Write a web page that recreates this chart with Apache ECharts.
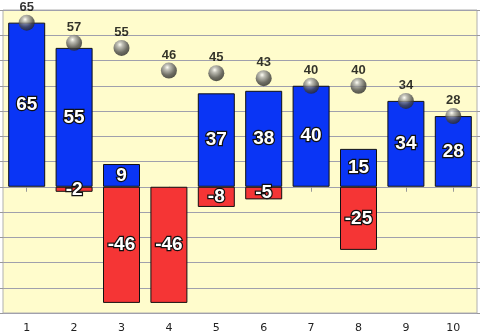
<!DOCTYPE html>
<html>
<head>
<meta charset="utf-8">
<script src="https://cdn.jsdelivr.net/npm/echarts@6/dist/echarts.min.js"></script>
<style>html,body{margin:0;padding:0;background:#fff}#c{width:480px;height:335px}</style>
</head>
<body>
<div id="c"></div>
<script>
var categories = ['1','2','3','4','5','6','7','8','9','10'];
var positiveValues = [65, 55, 9, '-', 37, 38, 40, 15, 34, 28];
var negativeValues = ['-', -2, -46, -46, -8, -5, '-', -25, '-', '-'];
var totalValues = [65, 57, 55, 46, 45, 43, 40, 40, 34, 28];

var chart = echarts.init(document.getElementById('c'), null, {renderer: 'canvas'});
var barLabel = {
  show: true, position: 'inside', color: '#fff', fontWeight: 'bold', fontSize: 19,
  fontFamily: "'Liberation Sans', Arial, sans-serif",
  textBorderColor: '#111', textBorderWidth: 2.5
};
chart.setOption({
  animation: false,
  backgroundColor: '#ffffff',
  grid: {left: 3, right: 3, top: 10, bottom: 22, show: true, backgroundColor: '#fffccc', borderColor: '#b0b0b0', borderWidth: 1},
  xAxis: {
    type: 'category', data: categories,
    axisLine: {show: false},
    axisTick: {show: true, alignWithLabel: true, length: 5, lineStyle: {color: '#999'}},
    axisLabel: {color: '#222', fontSize: 11, fontFamily: 'DejaVu Sans', margin: 10}
  },
  yAxis: [{
    type: 'value', min: -50, max: 70, interval: 10,
    axisLabel: {show: false}, axisLine: {show: false},
    axisTick: {show: true, length: 3, lineStyle: {color: '#999'}},
    splitLine: {show: true, lineStyle: {color: '#a0a0ac', width: 1}}
  }, {
    type: 'value', min: -50, max: 70, interval: 10, position: 'right',
    axisLabel: {show: false}, axisLine: {show: false},
    axisTick: {show: true, length: 3, lineStyle: {color: '#999'}},
    splitLine: {show: false}
  }],
  series: [{
    type: 'bar', stack: 's', data: positiveValues, barWidth: 37,
    itemStyle: {color: '#0a35f5', borderColor: '#111', borderWidth: 1},
    label: barLabel
  }, {
    type: 'bar', stack: 's', data: negativeValues, barWidth: 37,
    itemStyle: {color: '#f53535', borderColor: '#111', borderWidth: 1},
    label: barLabel
  }, {
    type: 'scatter', data: totalValues, symbol: 'circle', symbolSize: 16, z: 5,
    itemStyle: {
      color: new echarts.graphic.RadialGradient(0.4, 0.3, 0.75, [
        {offset: 0, color: '#ffffff'},
        {offset: 0.22, color: '#b0b0b0'},
        {offset: 0.65, color: '#4a4a4a'},
        {offset: 1, color: '#222222'}
      ])
    },
    label: {show: true, position: 'top', distance: 1, color: '#000', fontSize: 13, fontWeight: 'bold', fontFamily: "'Liberation Sans', Arial, sans-serif"}
  }]
});
</script>
</body>
</html>
